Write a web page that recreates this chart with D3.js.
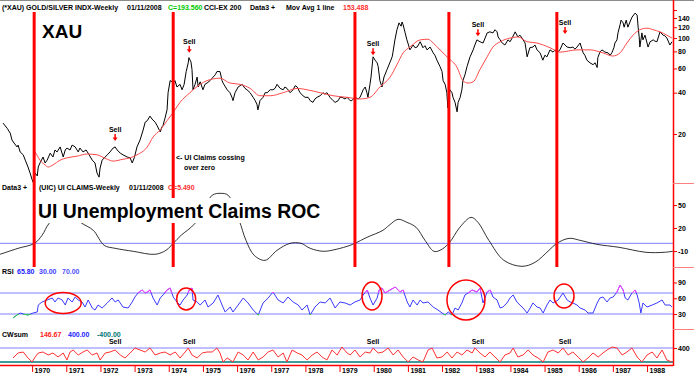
<!DOCTYPE html>
<html>
<head>
<meta charset="utf-8">
<script src="https://cdn.jsdelivr.net/npm/d3@7"></script>
<style>
  body { margin: 0; background: #fff; }
  text { font-family: Arial, "Liberation Sans", sans-serif; }
</style>
</head>
<body>
<div id="chart"></div>
<script>
// values, [decimal year, value]
const priceData = [
  [1969.15,24],[1969.27,22],[1969.36,20.3],[1969.41,18.1],[1969.47,17.2],[1969.56,16.1],[1969.59,16.6],
  [1969.65,14.8],[1969.74,14.1],[1969.80,12.9],[1969.88,11.5],[1969.94,10.4],[1970.00,9.3],[1970.03,8.9],
  [1970.09,10.4],[1970.15,9.9],[1970.18,11.5],[1970.23,12.3],[1970.32,13.6],[1970.38,12.3],[1970.44,12.9],
  [1970.53,14.5],[1970.61,13.6],[1970.67,15.3],[1970.73,14.8],[1970.82,16.1],[1970.91,13.6],[1970.97,15.3],
  [1971.02,15.8],[1971.11,15.3],[1971.17,16.6],[1971.26,16.1],[1971.35,14.8],[1971.40,15.8],[1971.49,14.8],
  [1971.58,15.3],[1971.67,14.1],[1971.76,12.9],[1971.84,12.3],[1971.90,10.4],[1971.96,9.7],[1971.99,11.3],
  [1972.05,12.9],[1972.14,13.6],[1972.20,14.1],[1972.28,14.8],[1972.37,15.8],[1972.43,16.1],[1972.49,15.3],
  [1972.58,14.5],[1972.66,14.1],[1972.78,13.6],[1972.87,13.4],[1972.93,12.3],[1972.99,13.4],[1973.07,16.1],
  [1973.16,18.1],[1973.25,21.4],[1973.31,24.4],[1973.37,25],[1973.45,27],[1973.51,25.7],[1973.60,24.4],
  [1973.66,23],[1973.75,20.7],[1973.80,22.5],[1973.83,23],[1973.89,26.1],[1973.95,30],[1973.98,40],
  [1974.04,49],[1974.10,48],[1974.13,47],[1974.18,49],[1974.24,44],[1974.33,46],[1974.39,42],[1974.45,46],
  [1974.51,57],[1974.57,66],[1974.59,72],[1974.65,67],[1974.68,59],[1974.71,42],[1974.77,46],[1974.83,52],
  [1974.86,44],[1974.92,48],[1975.00,42],[1975.06,46],[1975.12,47],[1975.21,49],[1975.30,52],[1975.36,54],
  [1975.41,57],[1975.50,57],[1975.56,49],[1975.59,47],[1975.71,42],[1975.79,40],[1975.85,37],[1975.88,35],
  [1975.94,40],[1976.03,44],[1976.09,45],[1976.15,46],[1976.23,43],[1976.29,42],[1976.38,40],[1976.47,37],
  [1976.53,35],[1976.58,33],[1976.61,30],[1976.67,35],[1976.76,37],[1976.82,40],[1976.88,40],[1976.97,42],
  [1977.05,42],[1977.11,43],[1977.17,46],[1977.26,43],[1977.35,42],[1977.40,44],[1977.46,43],[1977.55,40],
  [1977.64,42],[1977.70,45],[1977.76,44],[1977.84,40],[1977.93,38],[1977.99,37],[1978.08,37],[1978.14,35],
  [1978.22,34],[1978.28,36],[1978.34,37],[1978.43,38],[1978.52,40],[1978.57,39],[1978.63,40],[1978.72,37],
  [1978.81,35],[1978.87,34],[1978.96,35],[1979.01,37],[1979.07,37],[1979.16,36],[1979.22,37],[1979.31,35],
  [1979.36,35],[1979.45,37],[1979.54,36],[1979.60,37],[1979.69,42],[1979.75,44],[1979.80,40],[1979.83,37],
  [1979.89,46],[1979.92,52],[1979.98,73],[1980.04,69],[1980.10,66],[1980.13,62],[1980.18,49],[1980.24,44],
  [1980.30,52],[1980.39,59],[1980.48,67],[1980.54,73],[1980.56,78],[1980.62,97],[1980.68,115],[1980.74,129],
  [1980.80,122],[1980.83,131],[1980.86,125],[1980.92,109],[1980.97,97],[1981.00,92],[1981.06,82],[1981.15,89],
  [1981.21,85],[1981.27,86],[1981.36,94],[1981.44,85],[1981.50,88],[1981.56,82],[1981.65,86],[1981.74,78],
  [1981.79,75],[1981.85,69],[1981.94,62],[1982.00,57],[1982.03,49],[1982.09,46],[1982.14,40],[1982.17,31],
  [1982.23,42],[1982.29,40],[1982.32,37],[1982.38,34],[1982.44,29],[1982.47,34],[1982.53,37],[1982.58,42],
  [1982.61,49],[1982.67,54],[1982.73,62],[1982.82,73],[1982.91,82],[1982.96,89],[1983.02,97],[1983.11,94],
  [1983.20,92],[1983.26,100],[1983.32,109],[1983.40,111],[1983.49,109],[1983.55,115],[1983.61,111],[1983.64,102],
  [1983.70,97],[1983.76,92],[1983.84,89],[1983.93,97],[1983.99,94],[1984.05,100],[1984.14,111],[1984.22,102],
  [1984.28,105],[1984.34,100],[1984.43,92],[1984.49,73],[1984.57,85],[1984.66,86],[1984.72,89],[1984.78,82],
  [1984.87,78],[1984.95,69],[1985.01,75],[1985.07,73],[1985.16,82],[1985.25,79],[1985.31,82],[1985.36,78],
  [1985.45,82],[1985.54,92],[1985.60,89],[1985.66,86],[1985.75,85],[1985.83,86],[1985.89,83],[1985.95,86],
  [1986.04,92],[1986.13,78],[1986.18,75],[1986.24,69],[1986.33,66],[1986.42,64],[1986.48,66],[1986.54,61],
  [1986.56,72],[1986.62,79],[1986.68,82],[1986.77,79],[1986.86,78],[1986.92,75],[1986.97,78],[1987.03,85],
  [1987.06,92],[1987.12,97],[1987.15,109],[1987.21,125],[1987.24,135],[1987.30,129],[1987.33,120],[1987.39,135],
  [1987.44,120],[1987.50,131],[1987.56,142],[1987.65,152],[1987.71,147],[1987.74,120],[1987.77,102],[1987.79,86],
  [1987.85,109],[1987.88,97],[1987.94,105],[1988.00,92],[1988.03,86],[1988.09,94],[1988.18,97],[1988.23,95],
  [1988.29,94],[1988.38,111],[1988.47,105],[1988.52,104],[1988.58,100],[1988.67,89],[1988.73,94]
];

const maData = [
  [1970.09,14.8],[1970.23,12.9],[1970.38,11.9],[1970.47,11.5],[1970.61,11.9],[1970.82,12.9],[1971.02,13.4],
  [1971.32,13.8],[1971.61,14.3],[1971.90,14.1],[1972.20,13.1],[1972.37,12.7],[1972.66,13.1],[1972.87,13.4],
  [1973.07,14.1],[1973.37,16.1],[1973.54,19],[1973.75,21.4],[1973.95,25],[1974.10,28],[1974.33,34],
  [1974.62,40],[1974.92,46],[1975.12,49],[1975.50,51],[1975.79,47],[1976.09,46],[1976.38,43],[1976.67,38],
  [1976.97,38],[1977.35,40],[1977.76,43],[1978.05,42],[1978.43,40],[1978.81,38],[1979.22,37],[1979.60,36],
  [1979.89,37],[1980.18,44],[1980.48,52],[1980.68,64],[1980.86,78],[1981.06,86],[1981.36,97],[1981.59,98],
  [1981.74,92],[1981.94,82],[1982.17,72],[1982.44,61],[1982.61,49],[1982.76,47],[1982.91,48],[1983.11,59],
  [1983.32,73],[1983.49,86],[1983.70,94],[1983.99,100],[1984.22,102],[1984.49,94],[1984.78,92],[1985.16,85],
  [1985.45,79],[1985.95,82],[1986.33,82],[1986.71,78],[1987.00,74],[1987.21,78],[1987.41,92],[1987.59,105],
  [1987.79,115],[1988.00,118],[1988.18,115],[1988.38,111],[1988.58,105],[1988.73,100]
];

const rocData = [
  [1969.06,-14.3],[1969.59,-6.5],[1970.07,0],[1970.29,10.4],[1970.50,26.1],[1970.97,43],[1971.46,26.1],
  [1971.79,17],[1972.11,-2.6],[1972.43,-6.5],[1972.96,-10.4],[1973.60,-14.3],[1973.92,-9.1],[1974.13,0],
  [1974.36,10.4],[1974.77,26.1],[1975.27,62.6],[1975.53,65.2],[1975.74,62.6],[1976.06,30],[1976.26,3.9],
  [1976.50,-15.6],[1976.82,-22.2],[1977.17,-9.1],[1977.55,0],[1977.87,0],[1978.14,-6.5],[1978.52,-10.4],
  [1978.90,-7.8],[1979.31,-2.6],[1979.45,0],[1979.80,7.8],[1980.27,17],[1980.45,23.5],[1980.71,31.3],
  [1980.97,27.4],[1981.24,20.9],[1981.50,3.9],[1981.76,-10.4],[1981.94,-9.1],[1982.20,0],[1982.52,20.9],
  [1982.85,33.9],[1983.05,27.4],[1983.37,3.9],[1983.81,-22.2],[1984.34,-30],[1984.72,-24.8],[1985.13,-9.1],
  [1985.36,0],[1985.72,6.5],[1986.04,3.9],[1986.53,-1.3],[1987.18,-5.2],[1987.97,-11.7],[1988.50,-11.7],
  [1988.76,-10.4]
];

const rsiData = [
  [1969.44,22.4],[1969.56,28.1],[1969.65,31.9],[1969.74,30],[1969.88,28.1],[1970.03,31.9],[1970.15,33.8],
  [1970.18,47.1],[1970.29,52.9],[1970.44,56.7],[1970.59,60.5],[1970.67,52.9],[1970.76,60.5],[1970.88,56.7],
  [1970.97,47.1],[1971.05,60.5],[1971.17,52.9],[1971.26,62.4],[1971.35,56.7],[1971.46,52.9],[1971.55,43.3],
  [1971.64,56.7],[1971.76,41.4],[1971.84,37.6],[1971.93,47.1],[1972.05,41.4],[1972.20,51],[1972.34,60.5],
  [1972.43,52.9],[1972.52,56.7],[1972.66,43.3],[1972.81,41.4],[1972.93,52.9],[1973.01,62.4],[1973.10,70],
  [1973.22,75.7],[1973.31,70],[1973.37,71.9],[1973.45,75.7],[1973.54,60.5],[1973.66,47.1],[1973.75,60.5],
  [1973.83,66.2],[1973.95,75.7],[1974.04,79.5],[1974.13,62.4],[1974.24,52.9],[1974.33,47.1],[1974.42,56.7],
  [1974.54,66.2],[1974.60,75.7],[1974.68,79.5],[1974.71,56.7],[1974.83,52.9],[1974.92,47.1],[1975.06,56.7],
  [1975.15,43.3],[1975.30,51],[1975.44,66.2],[1975.56,47.1],[1975.65,33.8],[1975.80,43.3],[1975.88,33.8],
  [1976.03,47.1],[1976.18,60.5],[1976.32,51],[1976.47,37.6],[1976.62,28.1],[1976.76,51],[1976.91,60.5],
  [1977.05,71.9],[1977.20,56.7],[1977.35,51],[1977.49,62.4],[1977.64,52.9],[1977.79,47.1],[1977.90,37.6],
  [1978.05,47.1],[1978.14,28.1],[1978.28,43.3],[1978.43,52.9],[1978.58,51],[1978.72,60.5],[1978.87,41.4],
  [1979.01,52.9],[1979.16,51],[1979.31,47.1],[1979.45,52.9],[1979.60,56.7],[1979.69,66.2],[1979.81,75.7],
  [1979.89,60.5],[1979.98,47.1],[1980.10,60.5],[1980.16,75.7],[1980.24,79.5],[1980.33,70],[1980.48,75.7],
  [1980.63,81.4],[1980.77,71.9],[1980.86,75.7],[1980.98,52.9],[1981.06,43.3],[1981.15,56.7],[1981.27,47.1],
  [1981.36,56.7],[1981.44,51],[1981.59,52.9],[1981.74,43.3],[1981.88,37.6],[1982.00,31.9],[1982.09,28.1],
  [1982.18,33.8],[1982.29,28.1],[1982.38,41.4],[1982.47,37.6],[1982.58,51],[1982.67,66.2],[1982.76,70],
  [1982.88,75.7],[1983.02,71.9],[1983.11,79.5],[1983.20,51],[1983.32,71.9],[1983.41,75.7],[1983.49,62.4],
  [1983.61,56.7],[1983.70,41.4],[1983.78,43.3],[1983.90,51],[1983.99,60.5],[1984.08,66.2],[1984.19,52.9],
  [1984.28,47.1],[1984.37,41.4],[1984.49,31.9],[1984.58,41.4],[1984.66,51],[1984.78,43.3],[1984.87,41.4],
  [1984.96,31.9],[1985.07,47.1],[1985.16,56.7],[1985.25,51],[1985.40,56.7],[1985.54,70],[1985.66,56.7],
  [1985.75,52.9],[1985.83,51],[1985.95,47.1],[1986.04,41.4],[1986.19,37.6],[1986.27,31.9],[1986.42,31.9],
  [1986.54,51],[1986.62,60.5],[1986.71,62.4],[1986.83,52.9],[1986.92,60.5],[1987.01,62.4],[1987.12,71.9],
  [1987.21,85.2],[1987.30,75.7],[1987.36,60.5],[1987.44,56.7],[1987.56,70],[1987.65,75.7],[1987.71,66.2],
  [1987.77,51],[1987.82,31.9],[1987.88,51],[1988.00,43.3],[1988.15,47.1],[1988.29,51],[1988.44,56.7],
  [1988.53,47.1],[1988.67,47.1],[1988.73,43.3]
];

const cwData = [
  [1969.44,-171],[1969.59,114],[1969.74,171],[1969.88,-171],[1970.00,-400],[1970.09,-114],[1970.18,114],
  [1970.32,171],[1970.47,0],[1970.61,114],[1970.76,-114],[1970.91,114],[1971.02,-286],[1971.11,171],
  [1971.20,286],[1971.35,0],[1971.49,171],[1971.61,286],[1971.76,0],[1971.90,114],[1971.99,-286],
  [1972.14,114],[1972.28,171],[1972.43,286],[1972.58,0],[1972.72,-171],[1972.87,114],[1973.01,400],
  [1973.16,286],[1973.31,171],[1973.45,400],[1973.60,0],[1973.75,114],[1973.89,171],[1974.04,0],
  [1974.19,171],[1974.33,-171],[1974.48,171],[1974.57,400],[1974.68,0],[1974.83,-171],[1974.98,114],
  [1975.12,171],[1975.27,171],[1975.41,400],[1975.50,114],[1975.59,-400],[1975.71,-171],[1975.88,-400],
  [1976.03,171],[1976.18,0],[1976.32,-286],[1976.47,171],[1976.62,-286],[1976.76,-114],[1976.91,171],
  [1977.05,286],[1977.20,-114],[1977.35,114],[1977.46,-400],[1977.61,286],[1977.76,114],[1977.90,0],
  [1978.05,-286],[1978.20,0],[1978.34,171],[1978.49,-114],[1978.63,-286],[1978.78,286],[1978.93,0],
  [1979.07,457],[1979.22,114],[1979.31,0],[1979.45,286],[1979.60,-114],[1979.75,171],[1979.89,114],
  [1979.98,400],[1980.13,114],[1980.27,171],[1980.42,400],[1980.57,0],[1980.71,286],[1980.86,-114],
  [1981.01,-400],[1981.15,-114],[1981.30,-286],[1981.44,-400],[1981.59,286],[1981.71,400],[1981.85,-171],
  [1982.00,-114],[1982.15,171],[1982.29,-171],[1982.44,171],[1982.58,0],[1982.73,286],[1982.88,114],
  [1982.96,400],[1983.11,114],[1983.26,-114],[1983.40,171],[1983.55,-114],[1983.70,-400],[1983.84,0],
  [1983.99,114],[1984.08,400],[1984.22,-114],[1984.37,0],[1984.52,286],[1984.66,0],[1984.81,-171],
  [1984.96,-400],[1985.10,171],[1985.25,286],[1985.40,114],[1985.54,400],[1985.69,0],[1985.83,171],
  [1985.98,-114],[1986.13,-400],[1986.27,-171],[1986.42,114],[1986.57,-114],[1986.71,114],[1986.83,286],
  [1986.98,457],[1987.12,400],[1987.27,0],[1987.41,171],[1987.56,400],[1987.71,-114],[1987.85,-400],
  [1988.00,0],[1988.15,171],[1988.29,-171],[1988.44,286],[1988.58,-286],[1988.73,-400]
];

// annotations
const crossYears = [1970.06, 1974.13, 1979.45, 1982.20, 1985.36];
const sellYears = [1972.43, 1974.60, 1979.98, 1983.05, 1985.60];
const sellPrices = [17.8, 78, 75, 103, 107];
const rsiCircles = [[1970.91, 51], [1974.51, 58.6], [1979.95, 64.3], [1982.70, 56.7], [1985.57, 64.3]];
const circleRadii = [[18, 10.5], [9.5, 11], [10, 14], [19, 20], [10, 12]];

// axis labels
const yearTicks = [1970,1971,1972,1973,1974,1975,1976,1977,1978,1979,1980,1981,1982,1983,1984,1985,1986,1987,1988];
const priceTicks = [20, 40, 60, 80, 100, 120, 140, 160];
const rocTicks = [-10, 20, 50];
const rsiTicks = [30, 60, 90];
const cwTicks = [400];

const width = 694, height = 377, plotRight = 673;

const svg = d3.select("#chart")
  .append("svg")
    .attr("width", width)
    .attr("height", height)
    .style("display", "block");

svg.append("rect").attr("width", width).attr("height", height).attr("fill", "#fff");
svg.append("line")
  .attr("x1", 0).attr("x2", width).attr("y1", 0.5).attr("y2", 0.5)
  .attr("stroke", "#8c8c8c");

// scales
const x = d3.scaleLinear().domain([1969.06, 1988.76]).range([0, plotRight]);
const yPrice = d3.scaleLog().domain([20, 140]).range([134, 18]);
const yRoc = d3.scaleLinear().domain([-10, 50]).range([251, 205]);
const yRsi = d3.scaleLinear().domain([30, 70]).range([314, 293]);
const yCw = d3.scaleLinear().domain([-400, 400]).range([362, 348]);

// clip areas for the four panels
const defs = svg.append("defs");
function addClip(id, y0, y1) {
  defs.append("clipPath").attr("id", id)
    .append("rect").attr("x", 0).attr("y", y0).attr("width", plotRight).attr("height", y1 - y0);
}
addClip("clipPrice", 11, 183);
addClip("clipRoc", 183, 267);
addClip("clipRsi", 268, 329);
addClip("clipRsiHi", 268, yRsi(70));
addClip("clipRsiLo", yRsi(30), 329);
addClip("clipCw", 330, 365);

const line = (sy) => d3.line().x(d => x(d[0])).y(d => sy(d[1]));

// reference lines
function hLine(y, color, w) {
  svg.append("line")
    .attr("x1", 0).attr("x2", plotRight).attr("y1", y).attr("y2", y)
    .attr("stroke", color).attr("stroke-width", w || 1);
}
hLine(yRoc(0), "#8080ff");
hLine(yRsi(70), "#8080ff");
hLine(yRsi(30), "#8080ff");
hLine(yCw(400), "#8080ff");
hLine(yCw(-400), "#007878", 1.6);

// price panel
const pricePanel = svg.append("g").attr("clip-path", "url(#clipPrice)");
pricePanel.append("path")
  .datum(priceData)
  .attr("fill", "none")
  .attr("stroke", "#000")
  .attr("stroke-width", 1)
  .attr("d", line(yPrice));
pricePanel.append("path")
  .datum(maData)
  .attr("fill", "none")
  .attr("stroke", "#ff4a4a")
  .attr("stroke-width", 1)
  .attr("d", line(yPrice).curve(d3.curveMonotoneX));

// roc panel
svg.append("g").attr("clip-path", "url(#clipRoc)")
  .append("path")
  .datum(rocData)
  .attr("fill", "none")
  .attr("stroke", "#000")
  .attr("stroke-width", 0.8)
  .attr("d", line(yRoc).curve(d3.curveCatmullRom));

// rsi panel, blue with magenta above 70 and green below 30
const rsiLine = line(yRsi);
[["clipRsi", "#3a3aff"], ["clipRsiHi", "#ff40ff"], ["clipRsiLo", "#30e030"]].forEach(([clip, color]) => {
  svg.append("path")
    .datum(rsiData)
    .attr("clip-path", `url(#${clip})`)
    .attr("fill", "none")
    .attr("stroke", color)
    .attr("stroke-width", 1)
    .attr("d", rsiLine);
});

// cwsum panel
svg.append("g").attr("clip-path", "url(#clipCw)")
  .append("path")
  .datum(cwData)
  .attr("fill", "none")
  .attr("stroke", "#ff3030")
  .attr("stroke-width", 1)
  .attr("d", line(yCw));

// red vertical lines where claims cross zero
svg.selectAll(".cross")
  .data(crossYears)
  .join("line")
    .attr("x1", d => x(d)).attr("x2", d => x(d))
    .attr("y1", 12).attr("y2", 267)
    .attr("stroke", "#ff0000")
    .attr("stroke-width", 3);

// big titles
svg.append("text")
  .attr("x", 42).attr("y", 38)
  .attr("font-size", "19px")
  .attr("font-weight", "bold")
  .attr("fill", "#000")
  .text("XAU");

svg.append("rect")
  .attr("x", 37).attr("y", 198).attr("width", 287).attr("height", 25)
  .attr("fill", "#fff");
svg.append("text")
  .attr("x", 38).attr("y", 218)
  .attr("font-size", "19.4px")
  .attr("font-weight", "bold")
  .attr("fill", "#000")
  .text("UI Unemployment Claims ROC");

const small = (sel) => sel.attr("font-size", "7px").attr("font-weight", "bold");

small(svg.append("text").attr("x", 176).attr("y", 160)).text("<- UI Claims cossing");
small(svg.append("text").attr("x", 184).attr("y", 170)).text("over zero");

// sell marks on price and cwsum panels
sellYears.forEach((yr, i) => {
  const tx = x(yr), tip = yPrice(sellPrices[i]);
  small(svg.append("text").attr("x", tx).attr("y", tip - 9).attr("text-anchor", "middle")).text("Sell");
  svg.append("line")
    .attr("x1", tx).attr("x2", tx).attr("y1", tip - 7).attr("y2", tip - 3)
    .attr("stroke", "#ff0000").attr("stroke-width", 1.5);
  svg.append("path")
    .attr("d", `M${tx - 2.5},${tip - 3.5}L${tx + 2.5},${tip - 3.5}L${tx},${tip}Z`)
    .attr("fill", "#ff0000");
  small(svg.append("text").attr("x", tx).attr("y", 344).attr("text-anchor", "middle")).text("Sell");
});

// circles on rsi
svg.selectAll(".circ")
  .data(rsiCircles)
  .join("ellipse")
    .attr("cx", d => x(d[0]))
    .attr("cy", d => yRsi(d[1]))
    .attr("rx", (d, i) => circleRadii[i][0])
    .attr("ry", (d, i) => circleRadii[i][1])
    .attr("fill", "none")
    .attr("stroke", "#ff0000")
    .attr("stroke-width", 1.5);

// panel headers
function header(y, parts) {
  const t = small(svg.append("text").attr("y", y));
  parts.forEach(([px, txt, color]) => {
    t.append("tspan").attr("x", px).attr("fill", color).text(txt);
  });
}
header(10, [[2, "(*XAU) GOLD/SILVER INDX-Weekly", "#000"], [127, "01/11/2008", "#000"],
  [168, "C=193.560", "#00c800"], [204, "CCI-EX 200", "#000"], [250, "Data3 +", "#000"],
  [286, "Mov Avg 1 line", "#000"], [343, "153.488", "#ff3030"]]);
header(190, [[2, "Data3 +", "#000"], [39, "(UIC) UI CLAIMS-Weekly", "#000"],
  [129, "01/11/2008", "#000"], [168, "C=5.490", "#ff3030"]]);
header(274, [[2, "RSI", "#000"], [17, "65.80", "#2020ff"], [39, "30.00", "#4040ff"], [62, "70.00", "#5050ff"]]);
header(337, [[2, "CWsum", "#000"], [40, "146.67", "#ff2020"], [68, "400.00", "#2020ff"], [97, "-400.00", "#007878"]]);

// right axes
function rightAxis(scale, ticks, fmt) {
  const g = svg.append("g")
    .attr("transform", `translate(${plotRight},0)`)
    .call(d3.axisRight(scale).tickValues(ticks).tickSize(4).tickPadding(1).tickFormat(fmt));
  g.select(".domain").remove();
  g.selectAll(".tick line").attr("stroke", "#ff0000");
  g.selectAll(".tick text")
    .attr("font-size", "7px").attr("font-weight", "bold").attr("fill", "#000")
    .attr("font-family", "Arial, 'Liberation Sans', sans-serif");
}
rightAxis(yPrice, priceTicks, d => d === 160 ? "" : d);
rightAxis(yRoc, rocTicks, d => d);
rightAxis(yRsi, rsiTicks, d => d);
rightAxis(yCw, cwTicks, d => d);

svg.append("line")
  .attr("x1", plotRight + 0.5).attr("x2", plotRight + 0.5).attr("y1", 0).attr("y2", 366)
  .attr("stroke", "#ff0000").attr("stroke-width", 1.5);

// panel separators right of the axis
[183, 267, 329].forEach(y => {
  svg.append("line")
    .attr("x1", plotRight).attr("x2", width).attr("y1", y + 0.5).attr("y2", y + 0.5)
    .attr("stroke", "#ff8080");
});

// bottom year axis
const xAxis = svg.append("g")
  .attr("transform", "translate(0,365)")
  .call(d3.axisBottom(x).tickValues(yearTicks).tickSize(7).tickPadding(0).tickFormat(d3.format("d")));
xAxis.select(".domain").remove();
xAxis.selectAll(".tick line").attr("stroke", "#ff0000");
xAxis.selectAll(".tick text")
  .attr("x", 2).attr("y", 3).attr("dy", "0.71em")
  .attr("text-anchor", "start")
  .attr("font-size", "7px").attr("font-weight", "bold").attr("fill", "#000")
  .attr("font-family", "Arial, 'Liberation Sans', sans-serif");
svg.append("line")
  .attr("x1", 0).attr("x2", plotRight).attr("y1", 365.5).attr("y2", 365.5)
  .attr("stroke", "#ff0000").attr("stroke-width", 1.5);
</script>
</body>
</html>
